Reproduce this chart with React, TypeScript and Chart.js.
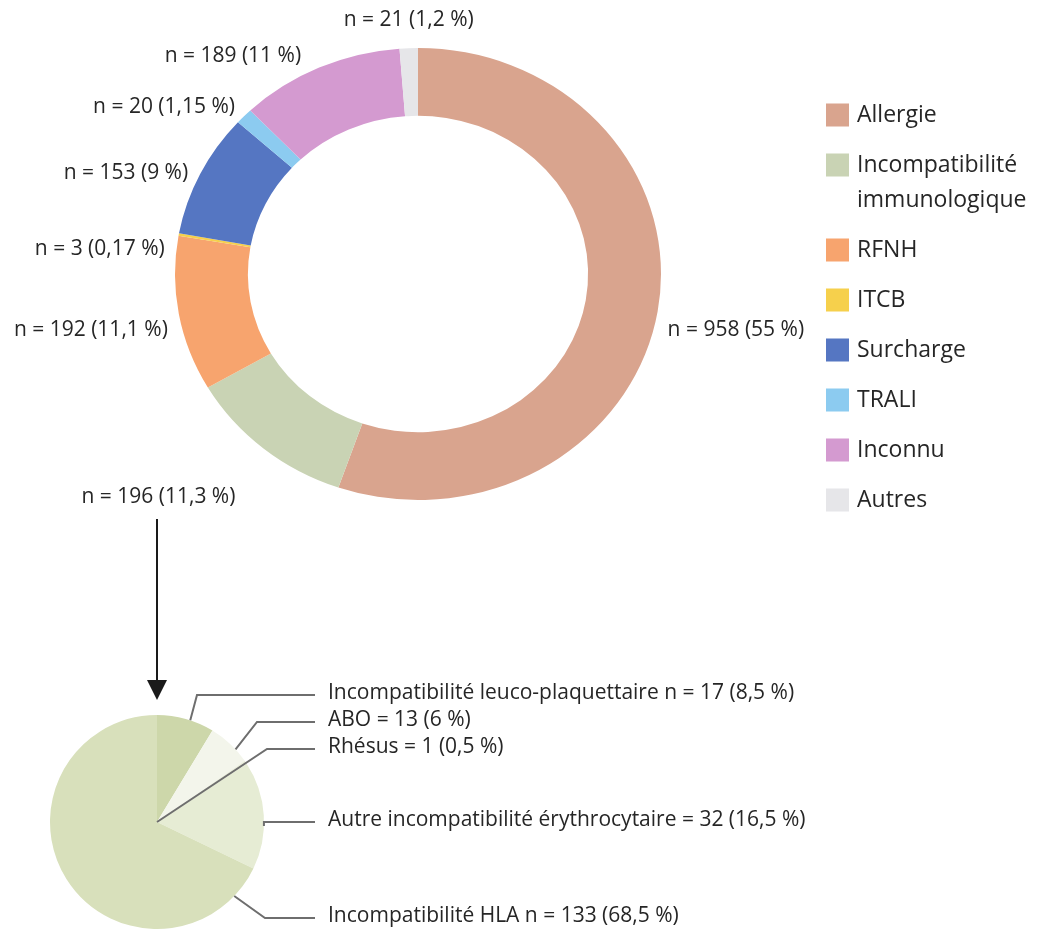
import React, { useEffect, useRef } from 'react';
import { Chart, registerables } from 'chart.js';
Chart.register(...registerables);

// ---- Data: main doughnut ----
const categories = ['Allergie', 'Incompatibilité immunologique', 'RFNH', 'ITCB', 'Surcharge', 'TRALI', 'Inconnu', 'Autres'];
const counts = [958, 196, 192, 3, 153, 20, 189, 21];
const countLabels = ['n = 958 (55 %)', 'n = 196 (11,3 %)', 'n = 192 (11,1 %)', 'n = 3 (0,17 %)', 'n = 153 (9 %)', 'n = 20 (1,15 %)', 'n = 189 (11 %)', 'n = 21 (1,2 %)'];
const colors = ['#d9a48e', '#c9d3b4', '#f7a46e', '#f6d04c', '#5576c2', '#8ccbf0', '#d49ad0', '#e6e6e9'];

// ---- Data: breakdown pie (Incompatibilité immunologique) ----
const subCategories = ['Incompatibilité leuco-plaquettaire', 'ABO', 'Rhésus', 'Autre incompatibilité érythrocytaire', 'Incompatibilité HLA'];
const subCounts = [17, 13, 1, 32, 133];
const subLabels = ['Incompatibilité leuco-plaquettaire n = 17 (8,5 %)', 'ABO = 13 (6 %)', 'Rhésus = 1 (0,5 %)', 'Autre incompatibilité érythrocytaire = 32 (16,5 %)', 'Incompatibilité HLA n = 133 (68,5 %)'];
const subColors = ['#cdd7aa', '#f3f5eb', '#e9eddb', '#e6ecd4', '#d8e0bb'];

// ---- Layout / style (not data) ----
const W = 1038;
const H = 930;
const SX = 243 / 234;
const SY = 226 / 234;
const LABEL_FONT = '21px "Open Sans", "DejaVu Sans", sans-serif';
const LEGEND_FONT = '23px "Open Sans", "DejaVu Sans", sans-serif';
const TEXT_COLOR = '#262626';
const LINE_COLOR = '#6e6e6e';
// per slice label offsets from the arc mid point: [dx, dy, align]
const donutLabelOffsets: [number, number, CanvasTextAlign][] = [
  [10, 18, 'left'], [-105, 49, 'center'], [-11, 16, 'right'], [-14, 15, 'right'],
  [-12, -1, 'right'], [-9, -9, 'right'], [-18, -12, 'right'], [0, -28, 'center'],
];
// leader lines for pie: [fraction along arc, radial factor, elbowX (null = anchor x), lineY]
const pieLeaders: [number, number, number | null, number][] = [
  [0.58, 1.0, 197, 695], [0.67, 1.0, 257, 722], [0.5, 0, 267, 749], [0.6, 1.0, null, 822], [0.074, 1.0, 265, 918],
];

const donutPlugin = {
  id: 'donutExtras',
  beforeDatasetsDraw(chart: any) {
    const arc = chart.getDatasetMeta(0).data[0];
    const ctx = chart.ctx;
    ctx.save();
    ctx.translate(arc.x, arc.y);
    ctx.scale(SX, SY);
    ctx.translate(-arc.x, -arc.y);
  },
  afterDatasetsDraw(chart: any) {
    const ctx = chart.ctx;
    ctx.restore();
    const meta = chart.getDatasetMeta(0);
    ctx.save();
    ctx.font = LABEL_FONT;
    ctx.fillStyle = TEXT_COLOR;
    ctx.textBaseline = 'middle';
    meta.data.forEach((a: any, i: number) => {
      const mid = (a.startAngle + a.endAngle) / 2;
      const px = a.x + Math.cos(mid) * a.outerRadius * SX;
      const py = a.y + Math.sin(mid) * a.outerRadius * SY;
      const [dx, dy, align] = donutLabelOffsets[i];
      ctx.textAlign = align;
      ctx.fillText(countLabels[i], px + dx, py + dy);
    });
    ctx.restore();
  },
  afterDraw(chart: any) {
    const ctx = chart.ctx;
    ctx.save();
    ctx.font = LEGEND_FONT;
    ctx.textBaseline = 'middle';
    ctx.textAlign = 'left';
    const boxX = 826;
    const box = 23;
    const textX = 857;
    const maxW = W - textX - 2;
    let y = 115;
    categories.forEach((c, i) => {
      ctx.fillStyle = colors[i];
      ctx.fillRect(boxX, y - box / 2, box, box);
      ctx.fillStyle = TEXT_COLOR;
      const words = c.split(' ');
      const lines: string[] = [];
      let cur = '';
      words.forEach((w) => {
        const t = cur ? cur + ' ' + w : w;
        if (cur && ctx.measureText(t).width > maxW) {
          lines.push(cur);
          cur = w;
        } else cur = t;
      });
      lines.push(cur);
      lines.forEach((l, k) => ctx.fillText(l, textX, y + k * 35));
      y += (lines.length - 1) * 35 + 50;
    });
    ctx.restore();
  },
};

const piePlugin = {
  id: 'pieExtras',
  afterDatasetsDraw(chart: any) {
    const ctx = chart.ctx;
    const meta = chart.getDatasetMeta(0);
    const a0 = meta.data[0];
    const cx = a0.x;
    const cy = a0.y;
    const R = a0.outerRadius;
    // arrow from donut sub-label to the pie
    ctx.save();
    ctx.strokeStyle = '#1a1a1a';
    ctx.fillStyle = '#1a1a1a';
    ctx.lineWidth = 2;
    const top = cy - R;
    ctx.beginPath();
    ctx.moveTo(cx, top - 196);
    ctx.lineTo(cx, top - 30);
    ctx.stroke();
    ctx.beginPath();
    ctx.moveTo(cx - 10, top - 35);
    ctx.lineTo(cx + 10, top - 35);
    ctx.lineTo(cx, top - 15);
    ctx.closePath();
    ctx.fill();
    ctx.restore();

    // leader lines and labels
    ctx.save();
    ctx.strokeStyle = LINE_COLOR;
    ctx.lineWidth = 2;
    ctx.font = LABEL_FONT;
    ctx.fillStyle = TEXT_COLOR;
    ctx.textBaseline = 'middle';
    ctx.textAlign = 'left';
    meta.data.forEach((a: any, i: number) => {
      const [f, rf, ex, ly] = pieLeaders[i];
      const ang = a.startAngle + f * (a.endAngle - a.startAngle);
      const sx = cx + Math.cos(ang) * R * rf;
      const sy = cy + Math.sin(ang) * R * rf;
      const elbowX = ex === null ? sx : ex;
      ctx.beginPath();
      ctx.moveTo(sx, sy);
      ctx.lineTo(elbowX, ly);
      ctx.lineTo(315, ly);
      ctx.stroke();
      ctx.fillText(subLabels[i], 328, ly - 2);
    });
    ctx.restore();
  },
};

export default function App() {
  const donutRef = useRef<HTMLCanvasElement>(null);
  const pieRef = useRef<HTMLCanvasElement>(null);

  useEffect(() => {
    document.body.style.margin = '0';
    document.body.style.overflow = 'hidden';
    const donut = new Chart(donutRef.current as HTMLCanvasElement, {
      type: 'doughnut',
      data: {
        labels: categories,
        datasets: [{ data: counts, backgroundColor: colors, borderWidth: 0, hoverOffset: 0, clip: false } as any],
      },
      options: {
        responsive: false,
        animation: false,
        devicePixelRatio: 1,
        events: [],
        cutout: '70%',
        layout: { padding: { left: 184, top: 40, right: 386, bottom: 422 } },
        plugins: { legend: { display: false }, tooltip: { enabled: false } },
      },
      plugins: [donutPlugin],
    });
    const pie = new Chart(pieRef.current as HTMLCanvasElement, {
      type: 'pie',
      data: {
        labels: subCategories,
        datasets: [{ data: subCounts, backgroundColor: subColors, borderWidth: 0, hoverOffset: 0 }],
      },
      options: {
        responsive: false,
        animation: false,
        devicePixelRatio: 1,
        events: [],
        layout: { padding: { left: 50, top: 715, right: 774, bottom: 1 } },
        plugins: { legend: { display: false }, tooltip: { enabled: false } },
      },
      plugins: [piePlugin],
    });
    return () => {
      donut.destroy();
      pie.destroy();
    };
  }, []);

  const cs: React.CSSProperties = { position: 'absolute', left: 0, top: 0, width: W, height: H };
  return (
    <div style={{ position: 'relative', width: W, height: H, background: '#ffffff' }}>
      <canvas ref={donutRef} width={W} height={H} style={cs} />
      <canvas ref={pieRef} width={W} height={H} style={cs} />
    </div>
  );
}
